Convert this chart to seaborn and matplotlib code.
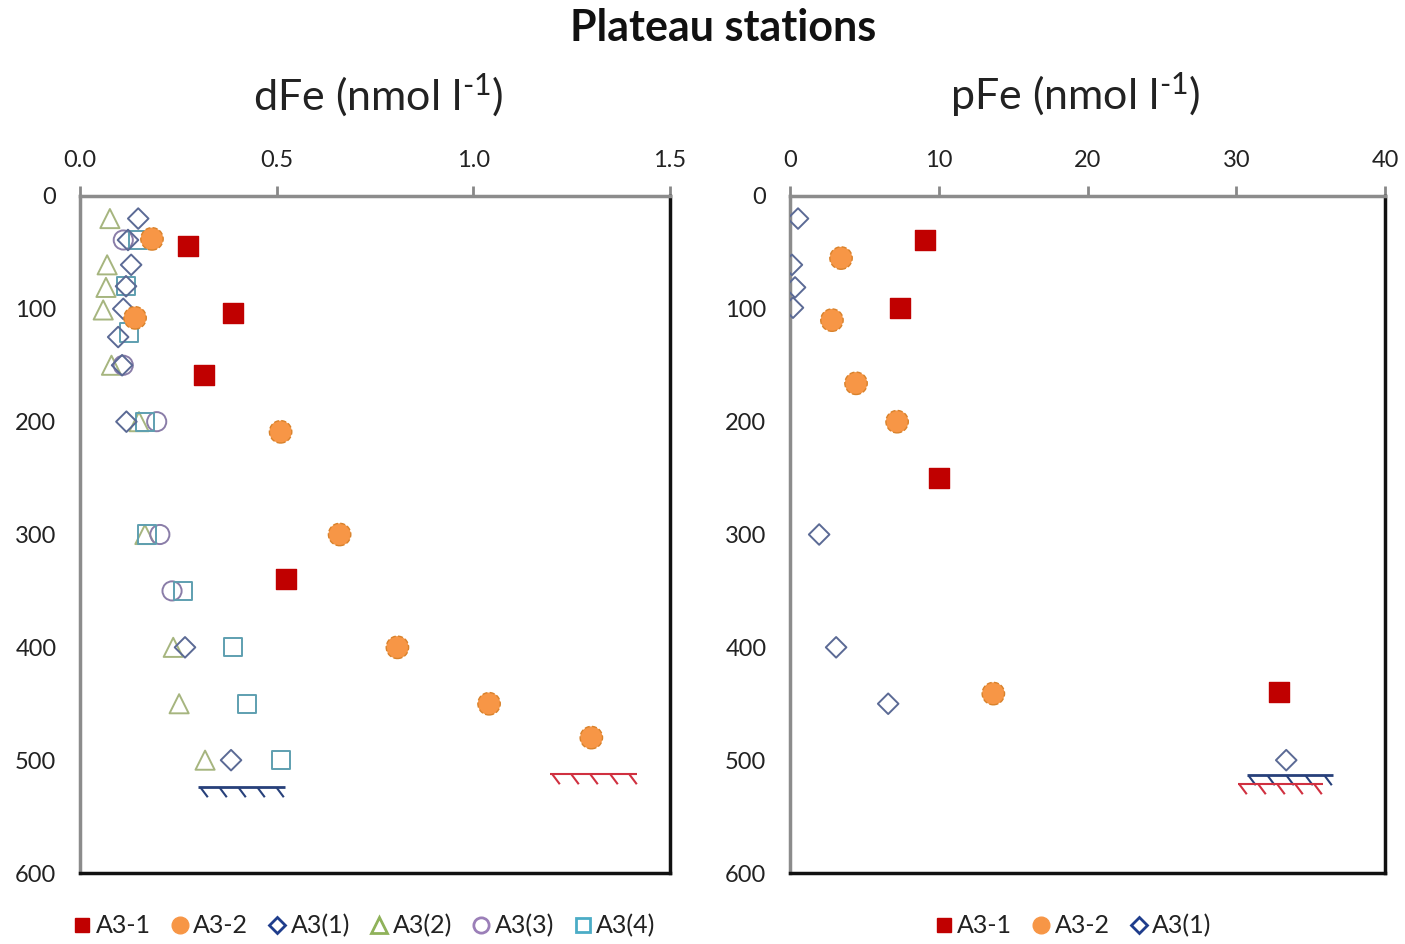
import numpy as np
import pandas as pd
import matplotlib
matplotlib.use("Agg")
import matplotlib.pyplot as plt
import seaborn as sns
from matplotlib.path import Path
from matplotlib.lines import Line2D

sns.set_theme(style="white")
plt.rcParams['font.family'] = ['Lato', 'DejaVu Sans']
plt.rcParams['mathtext.fontset'] = 'custom'
plt.rcParams['mathtext.rm'] = 'Lato'
plt.rcParams['mathtext.it'] = 'Lato'

# ---------------- data (depth in m) ----------------
# dFe (nmol/l)
a31_d_depth = [44, 104, 159, 339]
a31_d_val = [0.275, 0.39, 0.315, 0.524]
a32_d_depth = [38, 108, 209, 300, 400, 450, 480]
a32_d_val = [0.183, 0.14, 0.51, 0.66, 0.807, 1.04, 1.30]
a3_1_d_depth = [20, 39, 61, 80, 100, 125, 150, 200, 400, 500]
a3_1_d_val = [0.148, 0.122, 0.13, 0.117, 0.11, 0.097, 0.107, 0.118, 0.267, 0.384]
a3_2_d_depth = [20, 61, 81, 101, 150, 200, 300, 400, 450, 500]
a3_2_d_val = [0.076, 0.069, 0.066, 0.059, 0.08, 0.15, 0.165, 0.237, 0.252, 0.318]
a3_3_d_depth = [39, 150, 200, 300, 350]
a3_3_d_val = [0.11, 0.11, 0.195, 0.203, 0.234]
a3_4_d_depth = [39, 80, 121, 200, 300, 350, 400, 450, 500]
a3_4_d_val = [0.147, 0.117, 0.125, 0.165, 0.17, 0.262, 0.389, 0.425, 0.511]

# pFe (nmol/l)
a31_p_depth = [39, 99, 250, 440]
a31_p_val = [9.08, 7.4, 10.0, 32.9]
a32_p_depth = [55, 110, 166, 200, 441]
a32_p_val = [3.43, 2.82, 4.44, 7.2, 13.67]
a3_1_p_depth = [20, 61, 81, 99, 300, 400, 450, 500]
a3_1_p_val = [0.54, 0.13, 0.34, 0.2, 1.96, 3.1, 6.6, 33.36]

# seafloor markers: (depth, x start, x end)
sea_d_blue = (524, 0.30, 0.52)
sea_d_red = (512, 1.196, 1.417)
sea_p_blue = (513, 30.7, 36.5)
sea_p_red = (521, 30.1, 35.8)

labels_left = ['A3-1', 'A3-2', 'A3(1)', 'A3(2)', 'A3(3)', 'A3(4)']
labels_right = ['A3-1', 'A3-2', 'A3(1)']

RED = '#C00000'
ORANGE = '#F79646'
ORANGE_EDGE = '#D9822B'
NAVY = '#5B6A95'
GREEN = '#A6B57F'
PURPLE = '#8A7DA8'
TEAL = '#5E9FB0'

LEG_NAVY = '#1F3D8C'
LEG_GREEN = '#8FB25A'
LEG_PURPLE = '#9B7FB8'
LEG_TEAL = '#4BACC6'

fig = plt.figure(figsize=(14.05, 9.44), dpi=100)
axL = fig.add_axes([80/1405, 71/944, 590/1405, 677/944])
axR = fig.add_axes([790/1405, 71/944, 595/1405, 677/944])


def filled(ax, xv, yv, marker, color, s, ec=None, ls='-'):
    df = pd.DataFrame({'x': xv, 'y': yv})
    sns.scatterplot(data=df, x='x', y='y', ax=ax, marker=marker, s=s,
                    color=color, edgecolor=ec if ec else color,
                    linewidth=1.0, linestyle=ls, zorder=4, legend=False)


def hollow(ax, xv, yv, marker, color, s):
    df = pd.DataFrame({'x': xv, 'y': yv})
    sns.scatterplot(data=df, x='x', y='y', ax=ax, marker=marker, s=s,
                    facecolor='none', edgecolor=color, linewidth=1.4,
                    zorder=3, legend=False)


hatch_path = Path([(0, 0), (0.75, -1)], [Path.MOVETO, Path.LINETO])


def seafloor(ax, spec, color, n=5, lw=2.0):
    depth, x0, x1 = spec
    ax.plot([x0, x1], [depth, depth], color=color, lw=lw, zorder=2,
            solid_capstyle='butt')
    span = x1 - x0
    xs = np.linspace(x0 + span * 0.02, x1 - span * 0.1, n)
    ax.plot(xs, [depth] * n, linestyle='none', marker=hatch_path,
            markersize=14, markeredgecolor=color, markeredgewidth=1.5,
            zorder=2)


# left panel
hollow(axL, a3_2_d_val, a3_2_d_depth, '^', GREEN, 190)
hollow(axL, a3_3_d_val, a3_3_d_depth, 'o', PURPLE, 190)
hollow(axL, a3_4_d_val, a3_4_d_depth, 's', TEAL, 170)
hollow(axL, a3_1_d_val, a3_1_d_depth, 'D', NAVY, 110)
filled(axL, a32_d_val, a32_d_depth, 'o', ORANGE, 260, ec=ORANGE_EDGE, ls='--')
filled(axL, a31_d_val, a31_d_depth, 's', RED, 200)
seafloor(axL, sea_d_blue, '#27407A', 5)
seafloor(axL, sea_d_red, '#D03040', 5, lw=1.5)

# right panel
hollow(axR, a3_1_p_val, a3_1_p_depth, 'D', NAVY, 110)
filled(axR, a32_p_val, a32_p_depth, 'o', ORANGE, 260, ec=ORANGE_EDGE, ls='--')
filled(axR, a31_p_val, a31_p_depth, 's', RED, 200)
seafloor(axR, sea_p_blue, '#27407A', 5)
seafloor(axR, sea_p_red, '#D03040', 5, lw=1.5)

for ax, xmax, xticks, fmt in [(axL, 1.5, [0, 0.5, 1.0, 1.5], '{:.1f}'),
                              (axR, 40, [0, 10, 20, 30, 40], '{:.0f}')]:
    ax.set_xlim(0, xmax)
    ax.set_ylim(600, 0)
    ax.xaxis.tick_top()
    ax.set_xticks(xticks)
    ax.set_xticklabels([fmt.format(t) for t in xticks])
    ax.set_yticks([0, 100, 200, 300, 400, 500, 600])
    ax.set_xlabel('')
    ax.set_ylabel('')
    ax.tick_params(axis='both', which='both', labelsize=17,
                   colors='#888888', labelcolor='#222222',
                   direction='out', length=7, width=2)
    ax.tick_params(axis='x', pad=11)
    ax.tick_params(axis='y', pad=10)
    for side in ['top', 'left']:
        ax.spines[side].set_color('#8C8C8C')
        ax.spines[side].set_linewidth(2.5)
    for side in ['right', 'bottom']:
        ax.spines[side].set_color('#111111')
        ax.spines[side].set_linewidth(2.5)
    ax.set_facecolor('white')

fig.text(723/1405, 1 - 28/944, 'Plateau stations', ha='center', va='center',
         fontsize=31, fontweight='bold', color='#111111')
fig.text(378/1405, 1 - 95/944, r'dFe (nmol l$^{\text{-1}}$)', ha='center',
         va='center', fontsize=31, color='#222222')
fig.text(1075/1405, 1 - 95/944, r'pFe (nmol l$^{\text{-1}}$)', ha='center',
         va='center', fontsize=31, color='#222222')


def handles(n):
    h = [
        Line2D([], [], ls='none', marker='s', ms=10, mfc=RED, mec=RED),
        Line2D([], [], ls='none', marker='o', ms=12, mfc=ORANGE, mec=ORANGE),
        Line2D([], [], ls='none', marker='D', ms=8, mfc='none', mec=LEG_NAVY, mew=2),
        Line2D([], [], ls='none', marker='^', ms=11, mfc='none', mec=LEG_GREEN, mew=2),
        Line2D([], [], ls='none', marker='o', ms=11, mfc='none', mec=LEG_PURPLE, mew=2),
        Line2D([], [], ls='none', marker='s', ms=10, mfc='none', mec=LEG_TEAL, mew=2),
    ]
    return h[:n]


legL = axL.legend(handles(6), labels_left, loc='center', ncol=6,
                  bbox_to_anchor=(0.478, -0.078), frameon=False, fontsize=18,
                  handletextpad=0.0, columnspacing=0.6, handlelength=1.1)
legR = axR.legend(handles(3), labels_right, loc='center', ncol=3,
                  bbox_to_anchor=(0.472, -0.078), frameon=False, fontsize=18,
                  handletextpad=0.0, columnspacing=0.6, handlelength=1.1)
for leg in (legL, legR):
    for t in leg.get_texts():
        t.set_color('#222222')

fig.savefig('out.png', dpi=100, facecolor='white')
